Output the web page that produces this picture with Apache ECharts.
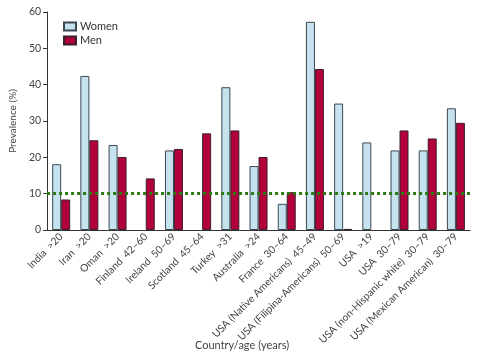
<!DOCTYPE html>
<html><head><meta charset="utf-8">
<script src="https://cdn.jsdelivr.net/npm/echarts@6/dist/echarts.min.js"></script>
<style>html,body{margin:0;padding:0;background:#fff}#c{width:479px;height:357px}</style>
</head><body><div id="c"></div>
<script>
const categories = ["India  >20","Iran  >20","Oman  >20","Finland  42–60","Ireland  50–69","Scotland  45–64","Turkey  >31","Australia  >24","France  30–64","USA (Native Americans)  45–49","USA (Filipina-Americans)  50–69","USA  >19","USA  30–79","USA (non-Hispanic white)  30–79","USA (Mexican American)  30–79"];
const women = [18.1, 42.4, 23.4, null, 21.9, null, 39.3, 17.6, 7.2, 57.3, 34.8, 24.1, 21.9, 21.9, 33.5];
const men = [8.4, 24.7, 20.1, 14.2, 22.3, 26.6, 27.4, 20.1, 10.4, 44.3, 0.3, null, 27.4, 25.2, 29.5];
const threshold = 10;
const yTicks = {min: 0, max: 60, interval: 10};

const font = 'Lato, "Liberation Sans", sans-serif';
const chart = echarts.init(document.getElementById('c'), null, {renderer: 'canvas'});
chart.setOption({
  animation: false,
  backgroundColor: '#fff',
  textStyle: {fontFamily: font},
  grid: {left: 45, right: 9, top: 12, bottom: 127, containLabel: false},
  legend: {
    orient: 'vertical', left: 58, top: 16, itemWidth: 12, itemHeight: 8, itemGap: 3,
    icon: 'rect',
    textStyle: {fontFamily: font, fontSize: 11, color: '#333', padding: [0,0,0,-1]},
    data: ['Women', 'Men']
  },
  xAxis: {
    type: 'category', data: categories, boundaryGap: true,
    axisLine: {lineStyle: {color: '#333', width: 1}},
    axisTick: {show: false},
    axisLabel: {rotate: 45, interval: 0, fontSize: 10.3, color: '#444', margin: 5, fontFamily: font},
    splitLine: {show: false}
  },
  yAxis: {
    type: 'value', min: yTicks.min, max: yTicks.max, interval: yTicks.interval,
    name: 'Prevalence (%)', nameLocation: 'middle', nameGap: 27, nameRotate: 90,
    nameTextStyle: {fontSize: 10, color: '#444', fontFamily: font},
    axisLine: {show: true, lineStyle: {color: '#333', width: 1}},
    axisTick: {show: true, length: 4, lineStyle: {color: '#333'}},
    axisLabel: {fontSize: 10.5, color: '#444', margin: 6, fontFamily: font},
    splitLine: {show: false}
  },
  series: [
    {name: 'Women', type: 'bar', data: women, barWidth: 9, barGap: '0%',
     itemStyle: {color: '#c6e2ef', borderColor: '#3b4852', borderWidth: 1}},
    {name: 'Men', type: 'bar', data: men, barWidth: 9,
     itemStyle: {color: '#b2003a', borderColor: '#3b2030', borderWidth: 1},
     markLine: {silent: true, symbol: ['none','none'], label: {show: false},
       lineStyle: {color: '#2d7a12', type: [3, 3], width: 3},
       data: [{yAxis: threshold}]}}
  ],
  graphic: [{type: 'text', left: 195, top: 340,
    style: {text: 'Country/age (years)', fontSize: 11, fill: '#444', fontFamily: font}}]
});
</script></body></html>
